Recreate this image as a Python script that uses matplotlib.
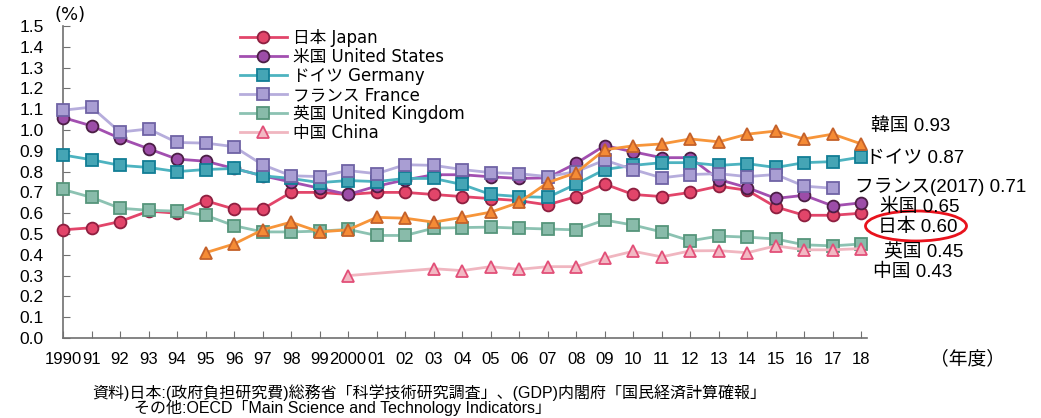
import matplotlib
matplotlib.use("Agg")
import matplotlib.pyplot as plt
from matplotlib.patches import Ellipse

plt.rcParams["font.family"] = ["Liberation Sans", "Noto Sans CJK JP", "DejaVu Sans"]

# data
years = list(range(1990, 2019))
year_labels = ["1990"] + ["%02d" % (y % 100) for y in range(1991, 2000)] + ["2000"] + \
              ["%02d" % (y % 100) for y in range(2001, 2019)]

japan = [0.52, 0.53, 0.56, 0.61, 0.60, 0.66, 0.62, 0.62, 0.70, 0.70,
         0.69, 0.70, 0.70, 0.69, 0.68, 0.67, 0.66, 0.64, 0.68, 0.74,
         0.69, 0.68, 0.70, 0.73, 0.71, 0.63, 0.59, 0.59, 0.60]
us = [1.06, 1.02, 0.96, 0.91, 0.86, 0.85, 0.815, 0.78, 0.75, 0.72,
      0.69, 0.73, 0.76, 0.785, 0.785, 0.775, 0.767, 0.77, 0.84, 0.925,
      0.895, 0.867, 0.867, 0.762, 0.723, 0.671, 0.686, 0.635, 0.65]
germany = [0.88, 0.857, 0.83, 0.82, 0.80, 0.81, 0.815, 0.78, 0.767, 0.747,
           0.757, 0.752, 0.767, 0.767, 0.738, 0.69, 0.68, 0.676, 0.74, 0.81,
           0.83, 0.843, 0.843, 0.83, 0.838, 0.82, 0.843, 0.848, 0.87]
france_years = list(range(1990, 2018))
france = [1.095, 1.11, 0.99, 1.005, 0.94, 0.937, 0.92, 0.833, 0.78, 0.776,
          0.805, 0.79, 0.833, 0.83, 0.81, 0.795, 0.79, 0.776, 0.80, 0.855,
          0.81, 0.77, 0.786, 0.79, 0.776, 0.786, 0.73, 0.72]
uk = [0.714, 0.676, 0.624, 0.614, 0.61, 0.59, 0.54, 0.51, 0.51, 0.514,
      0.522, 0.493, 0.493, 0.528, 0.531, 0.533, 0.528, 0.524, 0.52, 0.567,
      0.543, 0.51, 0.467, 0.49, 0.485, 0.476, 0.448, 0.443, 0.452]
china_years = [2000] + list(range(2003, 2019))
china = [0.30, 0.333, 0.324, 0.343, 0.33, 0.343, 0.343, 0.384, 0.417,
         0.39, 0.419, 0.42, 0.41, 0.443, 0.424, 0.424, 0.43]
korea_years = list(range(1995, 2019))
korea = [0.41, 0.452, 0.52, 0.557, 0.51, 0.52, 0.58, 0.576, 0.557, 0.58,
         0.605, 0.652, 0.747, 0.795, 0.905, 0.924, 0.933, 0.957, 0.943, 0.98,
         0.995, 0.957, 0.98, 0.933]

legend_names = ["日本 Japan", "米国 United States", "ドイツ Germany",
                "フランス France", "英国 United Kingdom", "中国 China"]
end_labels = ["韓国 0.93", "ドイツ 0.87", "フランス(2017) 0.71", "米国 0.65",
              "日本 0.60", "英国 0.45", "中国 0.43"]

# style per series: (line colour, face, edge, marker)
styles = {
    "japan": ("#E2456A", "#E2456A", "#8E1F40", "o"),
    "us": ("#A24FB0", "#9C4DA8", "#4B1E45", "o"),
    "germany": ("#4DB3C0", "#45A5B5", "#127E95", "s"),
    "france": ("#B6ADDC", "#A99ED3", "#6F63A5", "s"),
    "uk": ("#8CC2B2", "#89BBAA", "#56957B", "s"),
    "china": ("#F0B6C0", "#F2B8C3", "#E24F78", "^"),
    "korea": ("#F7953A", "#F58B35", "#C4612A", "^"),
}

jp_font = ["Liberation Sans", "Noto Sans CJK JP", "DejaVu Sans"]

fig = plt.figure(figsize=(10.41, 4.18), dpi=100)
ax = fig.add_axes([63 / 1041, 80 / 418, 804 / 1041, 312 / 418])

series = [("japan", years, japan), ("us", years, us), ("germany", years, germany),
          ("france", france_years, france), ("uk", years, uk),
          ("china", china_years, china), ("korea", korea_years, korea)]

handles = []
for i, (key, xs, ys) in enumerate(series):
    lc, fc, ec, mk = styles[key]
    ms = 8.5 if mk == "o" else 8
    ln, = ax.plot(xs, ys, color=lc, lw=2.0, marker=mk, ms=ms,
                  markerfacecolor=fc, markeredgecolor=ec, markeredgewidth=1.3,
                  zorder=3 + i, clip_on=False)
    handles.append(ln)

ax.set_xlim(1990, 2018.2)
ax.set_ylim(0, 1.5)
ax.set_xticks(years)
ax.set_xticklabels(year_labels, fontsize=12)
ax.set_yticks([i / 10 for i in range(16)])
ax.set_yticklabels(["%.1f" % (i / 10) for i in range(16)], fontsize=12.5)
ax.tick_params(axis="both", direction="in", length=5, color="#707070")
ax.tick_params(axis="x", pad=10)
ax.tick_params(axis="y", pad=14)
for s in ["top", "right"]:
    ax.spines[s].set_visible(False)
for s in ["left", "bottom"]:
    ax.spines[s].set_color("#707070")
    ax.spines[s].set_linewidth(1.2)

leg = ax.legend(handles[:6], legend_names, loc="upper left",
                bbox_to_anchor=(240 / 1041, 1 - 29 / 418), bbox_transform=fig.transFigure,
                frameon=False, handlelength=2.8, handletextpad=0.4,
                labelspacing=0.06, borderpad=0, borderaxespad=0,
                prop={"family": ["DejaVu Sans", "Noto Sans CJK JP"], "size": 12})

# end-of-line labels
label_pos = [(871, 127), (866, 158), (855, 187), (880, 207), (878, 227), (884, 253), (873, 272)]
for txt, (px, py) in zip(end_labels, label_pos):
    fig.text(px / 1041, 1 - py / 418, txt, fontsize=13.5, va="center", ha="left",
             family=jp_font)

fig.patches.append(Ellipse((916 / 1041, 1 - 226 / 418), 101 / 1041, 30 / 418,
                           transform=fig.transFigure, fill=False, edgecolor="#E8121C", lw=2))

fig.text(55 / 1041, 1 - 15 / 418, "(%)", fontsize=13, va="center", ha="left",
         family=["DejaVu Sans"])
fig.text(930 / 1041, 1 - 359 / 418, "（年度）", fontsize=13.5, va="center", ha="left",
         family=["Noto Sans CJK JP", "DejaVu Sans"])

fig.text(92 / 1041, 1 - 393 / 418,
         "資料)日本:(政府負担研究費)総務省「科学技術研究調査」、(GDP)内閣府「国民経済計算確報」",
         fontsize=11.5, va="center", ha="left", family=jp_font)
fig.text(134 / 1041, 1 - 408 / 418,
         "その他:OECD「Main Science and Technology Indicators」",
         fontsize=11.5, va="center", ha="left", family=jp_font)

fig.savefig("out.png", dpi=100)
